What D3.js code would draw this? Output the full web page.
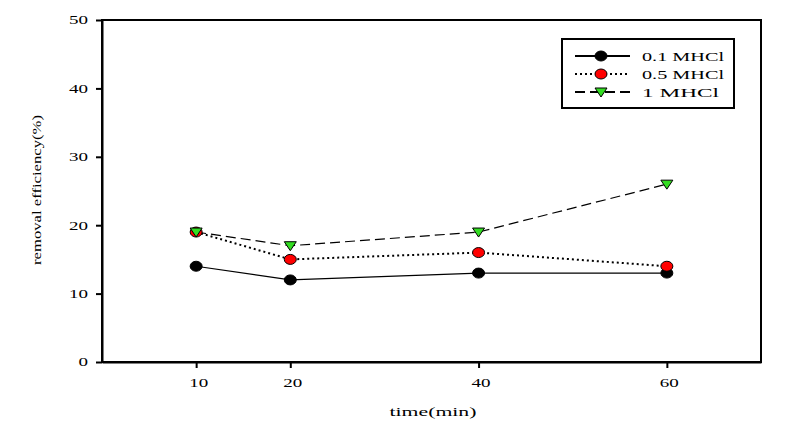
<!DOCTYPE html>
<html><head><meta charset="utf-8">
<script src="https://cdn.jsdelivr.net/npm/d3@7"></script>
<style>body{margin:0;background:#fff}svg{display:block}</style>
</head><body>
<svg id="c" width="793" height="430"></svg>
<script>
const times = [10, 20, 40, 60];
const series01 = [14, 12, 13, 13];
const series05 = [19, 15, 16, 14];
const series1 = [19, 17, 19, 26];
const seriesNames = ["0.1 MHCl", "0.5 MHCl", "1 MHCl"];
const xTicks = [10, 20, 40, 60];
const yTicks = [0, 10, 20, 30, 40, 50];

const svg = d3.select("#c");
const L = 102, R = 761, T = 20, B = 362;
const x = d3.scaleLinear().domain([0, 70]).range([L, R]);
const y = d3.scaleLinear().domain([0, 50]).range([B, T]);
const font = "'Liberation Serif', 'Times New Roman', serif";

// frame
svg.append("rect").attr("x", L).attr("y", T).attr("width", R - L).attr("height", B - T)
  .attr("fill", "none").attr("stroke", "#000").attr("stroke-width", 2);

const xa = svg.append("g").attr("transform", `translate(0,${B})`)
  .call(d3.axisBottom(x).tickValues(xTicks).tickSize(6).tickPadding(10).tickSizeOuter(0));
const ya = svg.append("g").attr("transform", `translate(${L},0)`)
  .call(d3.axisLeft(y).tickValues(yTicks).tickSize(6).tickPadding(8).tickSizeOuter(0));
[xa, ya].forEach(a => {
  a.select(".domain").attr("stroke-width", 2);
  a.selectAll(".tick line").attr("stroke-width", 2);
  a.selectAll("text").attr("font-family", font).attr("font-size", 12).attr("fill", "#000")
    .attr("textLength", d => String(d).length * 9.5).attr("lengthAdjust", "spacingAndGlyphs");
});
xa.selectAll("text").attr("dx", 2);

svg.append("text").attr("x", 433).attr("y", 416).attr("text-anchor", "middle")
  .attr("font-family", font).attr("font-size", 13)
  .attr("textLength", 87).attr("lengthAdjust", "spacingAndGlyphs").text("time(min)");
svg.append("text").attr("transform", "translate(41,190) rotate(-90)").attr("text-anchor", "middle")
  .attr("font-family", font).attr("font-size", 13).attr("textLength", 150).attr("lengthAdjust", "spacingAndGlyphs")
  .text("removal efficiency(%)");

const styles = [
  {vals: series01, dash: null, color: "#000", shape: "circle"},
  {vals: series05, dash: "2,3", color: "#ff0000", shape: "circle"},
  {vals: series1, dash: "10,5", color: "#33dd22", shape: "tri"}
];
const line = d3.line().x(d => x(d.t)).y(d => y(d.v));
function marker(g, shape, color, cx, cy) {
  if (shape === "circle") {
    g.append("ellipse").attr("cx", cx).attr("cy", cy).attr("rx", 6).attr("ry", 5)
      .attr("fill", color).attr("stroke", "#000").attr("stroke-width", 1);
  } else {
    g.append("path").attr("d", `M${cx-6},${cy-4}L${cx+6},${cy-4}L${cx},${cy+5}Z`)
      .attr("fill", color).attr("stroke", "#000").attr("stroke-width", 1);
  }
}
styles.forEach(s => {
  const pts = times.map((t, i) => ({t, v: s.vals[i]}));
  svg.append("path").datum(pts).attr("d", line).attr("fill", "none")
    .attr("stroke", "#000").attr("stroke-width", s.dash === "2,3" ? 2 : 1.2)
    .attr("stroke-dasharray", s.dash);
});
styles.forEach(s => {
  const g = svg.append("g");
  times.forEach((t, i) => marker(g, s.shape, s.color, x(t), y(s.vals[i])));
});

// legend
const lg = svg.append("g");
lg.append("rect").attr("x", 562).attr("y", 39).attr("width", 172).attr("height", 69)
  .attr("fill", "#fff").attr("stroke", "#000").attr("stroke-width", 2);
const rowsY = [56, 74, 92];
const legendLen = [82, 82, 77];
styles.forEach((s, i) => {
  lg.append("line").attr("x1", 575).attr("x2", 630).attr("y1", rowsY[i]).attr("y2", rowsY[i])
    .attr("stroke", "#000").attr("stroke-width", 2)
    .attr("stroke-dasharray", s.dash);
  marker(lg, s.shape, s.color, 601, rowsY[i]);
  lg.append("text").attr("x", 642).attr("y", rowsY[i] + 5).attr("font-family", font)
    .attr("font-size", 13).attr("textLength", legendLen[i]).attr("lengthAdjust", "spacingAndGlyphs")
    .text(seriesNames[i]);
});
</script>
</body></html>
